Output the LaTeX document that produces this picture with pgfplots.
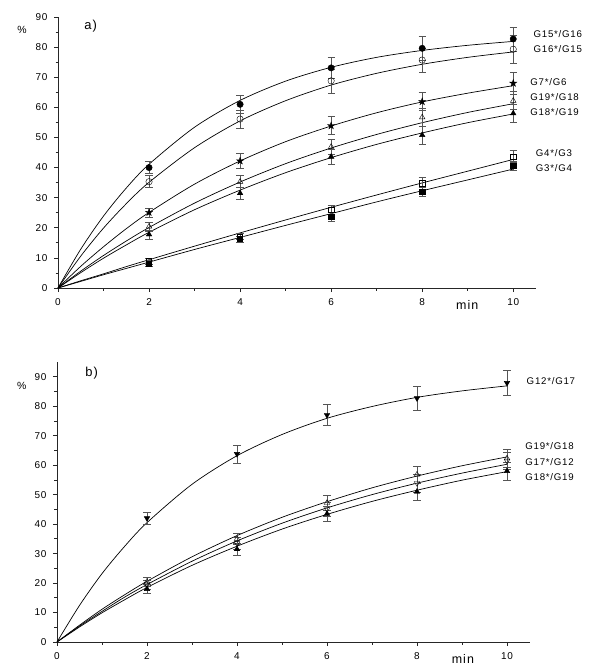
\documentclass[border=0pt]{standalone}
\usepackage{pgfplots}
\pgfplotsset{compat=1.18}
\usepackage{fontspec}
\setmainfont{Liberation Sans}[LetterSpace=8]
\pgfdeclareplotmark{fstar}{%
  \pgfpathmoveto{\pgfpointpolar{90}{1.25\pgfplotmarksize}}%
  \pgfpathlineto{\pgfpointpolar{126}{0.48\pgfplotmarksize}}%
  \pgfpathlineto{\pgfpointpolar{162}{1.25\pgfplotmarksize}}%
  \pgfpathlineto{\pgfpointpolar{198}{0.48\pgfplotmarksize}}%
  \pgfpathlineto{\pgfpointpolar{234}{1.25\pgfplotmarksize}}%
  \pgfpathlineto{\pgfpointpolar{270}{0.48\pgfplotmarksize}}%
  \pgfpathlineto{\pgfpointpolar{306}{1.25\pgfplotmarksize}}%
  \pgfpathlineto{\pgfpointpolar{342}{0.48\pgfplotmarksize}}%
  \pgfpathlineto{\pgfpointpolar{18}{1.25\pgfplotmarksize}}%
  \pgfpathlineto{\pgfpointpolar{54}{0.48\pgfplotmarksize}}%
  \pgfpathclose\pgfusepathqfillstroke}
\definecolor{ebar}{HTML}{555555}
\tikzset{lab/.style={anchor=west, font=\fontsize{9.7}{11}\selectfont}}
\pgfplotsset{
  panel/.style={
    scale only axis, clip=false,
    xmin=0, xmax=10.5, ymin=0,
    axis x line*=bottom, axis y line*=left,
    axis line style={-, black!85, line width=0.8pt},
    tick align=outside,
    major tick length=4bp, minor tick length=2.5bp,
    tick style={black!85, line width=0.7pt},
    xtick={0,2,...,10}, minor xtick={1,3,...,9},
    ytick={0,10,...,90}, minor ytick={5,15,...,85},
    /pgf/number format/assume math mode=true,
    tick label style={font=\fontsize{10}{12}\selectfont},
    xticklabel style={yshift=-3bp},
    yticklabel style={xshift=-3bp},
  },
  fit/.style={black, line width=0.7pt, smooth, no marks},
  pts/.style={only marks, mark size=3.2bp, black,
    error bars/y dir=both, error bars/y explicit,
    error bars/error bar style={ebar, line width=0.5pt},
    error bars/error mark options={ebar, rotate=90, mark size=3.6bp, line width=0.5pt}},
}
\begin{document}
\begin{tikzpicture}
\useasboundingbox (-58bp,-379bp) rectangle (542bp,288bp);
% ---------------- panel a
\begin{axis}[panel, at={(0,0)}, anchor=south west,
  width=478bp, height=271bp, ymax=90]
% curves
\addplot[fit] coordinates {(0,0)(0.5,12.9)(1,23.9)(1.5,33.2)(2,41.1)(3,53.4)(4,62.3)(5,68.7)(6,73.3)(7,76.6)(8,78.9)(9,80.6)(10,81.9)};
\addplot[fit] coordinates {(0,0)(0.5,10.6)(1,19.9)(1.5,28.0)(2,35.1)(3,46.6)(4,55.5)(5,62.2)(6,67.4)(7,71.3)(8,74.3)(9,76.6)(10,78.4)};
\addplot[fit] coordinates {(0,0)(0.5,7.2)(1,13.7)(1.5,19.7)(2,25.1)(3,34.5)(4,42.2)(5,48.6)(6,53.8)(7,58.2)(8,61.8)(9,64.7)(10,67.2)};
\addplot[fit] coordinates {(0,0)(0.5,5.6)(1,10.8)(1.5,15.6)(2,20.1)(3,28.2)(4,35.2)(5,41.3)(6,46.5)(7,51.0)(8,54.9)(9,58.3)(10,61.2)};
\addplot[fit] coordinates {(0,0)(0.5,5.1)(1,9.9)(1.5,14.3)(2,18.5)(3,26.0)(4,32.5)(5,38.3)(6,43.3)(7,47.7)(8,51.5)(9,54.9)(10,57.8)};
\addplot[fit] coordinates {(0,0)(0.5,2.4)(1,4.7)(1.5,7.1)(2,9.4)(3,13.9)(4,18.3)(5,22.6)(6,26.8)(7,30.9)(8,34.9)(9,38.8)(10,42.7)};
\addplot[fit] coordinates {(0,0)(0.5,2.2)(1,4.4)(1.5,6.5)(2,8.6)(3,12.8)(4,16.8)(5,20.8)(6,24.7)(7,28.6)(8,32.3)(9,35.9)(10,39.5)};
% points
\addplot[pts, mark=*, mark options={fill=black}] coordinates {(2,40.0)+-(0,2)(4,61.0)+-(0,3)(6,73.1)+-(0,3.5)(8,79.6)+-(0,4)(10,82.7)+-(0,4)};
\addplot[pts, mark=o, mark options={fill=white}] coordinates {(2,35.3)+-(0,2)(4,56.1)+-(0,3)(6,68.8)+-(0,4)(8,75.7)+-(0,4)(10,79.3)+-(0,4.5)};
\addplot[pts, mark=fstar, mark options={fill=black, mark size=3bp}] coordinates {(2,25.1)+-(0,1.5)(4,42.2)+-(0,2.5)(6,53.9)+-(0,3)(8,61.9)+-(0,3)(10,68.0)+-(0,3.5)};
\addplot[pts, mark=triangle, mark options={fill=white}] coordinates {(2,20.4)+-(0,1.5)(4,35.3)+-(0,2)(6,46.9)+-(0,2.5)(8,56.7)+-(0,3)(10,62.2)+-(0,3)};
\addplot[pts, mark=triangle*, mark options={fill=black}] coordinates {(2,17.8)+-(0,1.5)(4,31.5)+-(0,2)(6,43.6)+-(0,2.5)(8,50.8)+-(0,3)(10,58.0)+-(0,3)};
\addplot[pts, mark=square, mark options={fill=white, mark size=2.6bp}] coordinates {(2,9.0)+-(0,1)(4,17.1)+-(0,1)(6,25.9)+-(0,1.5)(8,34.8)+-(0,2)(10,43.6)+-(0,2)};
\addplot[pts, mark=square*, mark options={fill=black, mark size=2.6bp}] coordinates {(2,8.2)+-(0,1)(4,16.3)+-(0,1)(6,23.7)+-(0,1.5)(8,32.0)+-(0,1.5)(10,40.6)+-(0,1.5)};
\node[lab] at (axis cs:10.37,84.4) {G15*/G16};
\node[lab] at (axis cs:10.37,79.4) {G16*/G15};
\node[lab] at (axis cs:10.30,68.4) {G7*/G6};
\node[lab] at (axis cs:10.30,63.5) {G19*/G18};
\node[lab] at (axis cs:10.30,58.5) {G18*/G19};
\node[lab] at (axis cs:10.42,44.9) {G4*/G3};
\node[lab] at (axis cs:10.42,39.9) {G3*/G4};
\node[font=\fontsize{10.5}{12}\selectfont] at (axis cs:-0.79,85.7) {\%};
\node[anchor=west, font=\fontsize{13}{15}\selectfont] at (axis cs:0.5,87.0) {a)};
\node[font=\fontsize{12.5}{14}\selectfont] at (axis cs:8.99,-5.8) {min};
\end{axis}
% ---------------- panel b
\begin{axis}[panel, at={(-1bp,-354bp)}, anchor=south west,
  width=472.5bp, height=280bp, ymax=95]
\addplot[fit] coordinates {(0,0)(0.5,12.4)(1,23.2)(1.5,32.4)(2,40.5)(3,53.5)(4,63.2)(5,70.4)(6,75.9)(7,79.9)(8,83.0)(9,85.2)(10,86.9)};
\addplot[fit] coordinates {(0,0)(0.5,5.7)(1,11.1)(1.5,16.0)(2,20.6)(3,28.9)(4,36.1)(5,42.3)(6,47.6)(7,52.3)(8,56.3)(9,59.8)(10,62.8)};
\addplot[fit] coordinates {(0,0)(0.5,5.4)(1,10.4)(1.5,15.2)(2,19.5)(3,27.4)(4,34.3)(5,40.3)(6,45.5)(7,50.0)(8,53.9)(9,57.3)(10,60.3)};
\addplot[fit] coordinates {(0,0)(0.5,5.1)(1,9.9)(1.5,14.3)(2,18.5)(3,26.0)(4,32.5)(5,38.3)(6,43.3)(7,47.7)(8,51.5)(9,54.9)(10,57.8)};
\addplot[pts, mark=triangle*, mark options={fill=black, rotate=180}] coordinates {(2,42.0)+-(0,2)(4,63.8)+-(0,3)(6,77.0)+-(0,3.5)(8,82.7)+-(0,4)(10,87.9)+-(0,4.3)};
\addplot[pts, mark=triangle, mark options={fill=white}] coordinates {(2,20.5)+-(0,1.5)(4,35.0)+-(0,2)(6,47.2)+-(0,2.5)(8,56.8)+-(0,3)(10,62.3)+-(0,3)};
\addplot[pts, mark=triangle, mark options={fill=white, rotate=180}] coordinates {(2,19.5)+-(0,1.5)(4,33.5)+-(0,2)(6,45.0)+-(0,2.5)(8,53.9)+-(0,3)(10,61.5)+-(0,3)};
\addplot[pts, mark=triangle*, mark options={fill=black}] coordinates {(2,18.0)+-(0,1.5)(4,31.5)+-(0,2)(6,43.5)+-(0,2.5)(8,51.0)+-(0,3)(10,58.0)+-(0,3)};
\node[lab] at (axis cs:10.36,88.4) {G12*/G17};
\node[lab] at (axis cs:10.33,66.4) {G19*/G18};
\node[lab] at (axis cs:10.33,61.1) {G17*/G12};
\node[lab] at (axis cs:10.33,55.9) {G18*/G19};
\node[font=\fontsize{10.5}{12}\selectfont] at (axis cs:-0.78,87) {\%};
\node[anchor=west, font=\fontsize{13}{15}\selectfont] at (axis cs:0.55,91.1) {b)};
\node[font=\fontsize{12.5}{14}\selectfont] at (axis cs:9.02,-5.8) {min};
\end{axis}
\end{tikzpicture}
\end{document}
